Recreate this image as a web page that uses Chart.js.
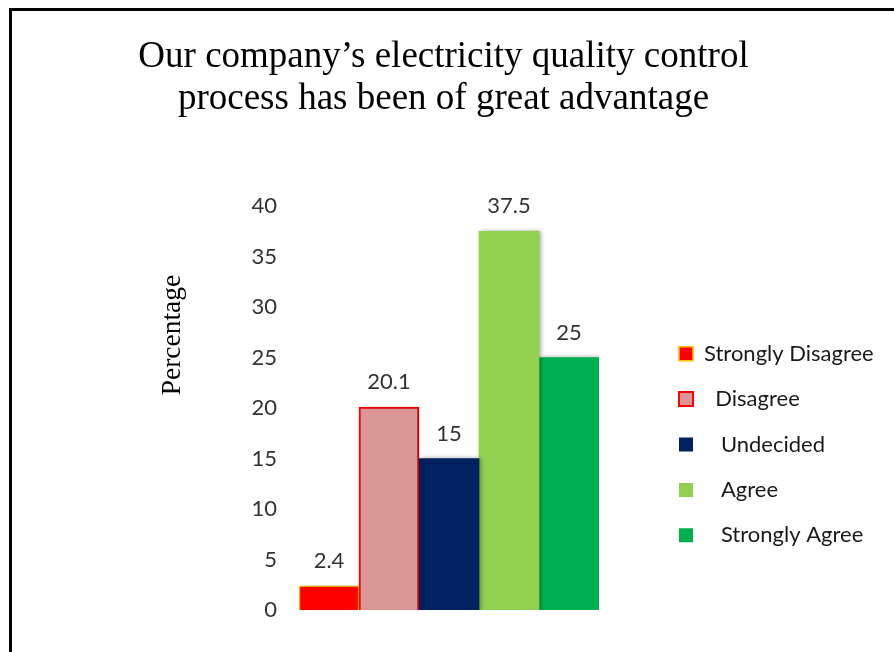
<!DOCTYPE html>
<html>
<head>
<meta charset="utf-8">
<script src="https://cdn.jsdelivr.net/npm/chart.js@4.4.1/dist/chart.umd.min.js"></script>
<style>
  html, body { margin: 0; padding: 0; background: #fff; overflow: hidden; }
  #frame { position: absolute; left: 9px; top: 8px; width: 900px; height: 700px;
           border-left: 3px solid #000; border-top: 3px solid #000; box-sizing: border-box; }
  #wrap { position: absolute; left: 0; top: 0; width: 894px; height: 652px; }
</style>
</head>
<body>
<div id="frame"></div>
<div id="wrap"><canvas id="c" width="894" height="652"></canvas></div>
<script>
// ---- data ----
const titleLines = ['Our company\u2019s electricity quality control', 'process has been of great advantage'];
const yAxisTitle = 'Percentage';
const categories = [''];
const seriesNames = ['Strongly Disagree', '  Disagree', '   Undecided', '   Agree', '   Strongly Agree'];
const seriesValues = [2.4, 20.1, 15, 37.5, 25];
const yMin = 0, yMax = 40, yStep = 5;

// ---- styles ----
const fillColors = ['#FF0000', '#DA9694', '#002060', '#92D050', '#00B050'];
const borderColors = ['#FFC000', '#FF0000', '#002060', '#92D050', '#00B050'];
const borderWidths = [1.5, 2, 0, 0, 0];

// ---- layout sizes ----
const yAxisWidth = 299;      // left axis band (title + ticks)
const rightGapWidth = 56.6;  // empty band between plot and legend
const legendWidth = 231.4;   // legend band

Chart.defaults.font.family = 'Lato, "Open Sans", sans-serif';

const datasets = seriesNames.map((name, i) => ({
  label: name,
  data: [seriesValues[i]],
  backgroundColor: fillColors[i],
  borderColor: borderColors[i],
  borderWidth: borderWidths[i],
  categoryPercentage: 1.0,
  barPercentage: 1.0
}));

const legendWidthPlugin = {
  id: 'legendWidth',
  beforeLayout(chart) {
    const lg = chart.legend;
    if (lg && !lg._fixedWidth) {
      const orig = lg.fit;
      lg.fit = function () { orig.call(this); this.width = legendWidth; };
      lg._fixedWidth = true;
    }
  }
};

const shadowPlugin = {
  id: 'barShadow',
  beforeDatasetsDraw(chart) {
    const ctx = chart.ctx;
    ctx.save();
    ctx.shadowColor = 'rgba(0,0,0,0.35)';
    ctx.shadowBlur = 4;
    ctx.shadowOffsetX = 2;
    ctx.shadowOffsetY = 0;
  },
  afterDatasetsDraw(chart) {
    chart.ctx.restore();
  }
};

const valueLabelPlugin = {
  id: 'valueLabels',
  afterDatasetsDraw(chart) {
    const ctx = chart.ctx;
    ctx.save();
    ctx.font = '22px Lato, "Open Sans", sans-serif';
    ctx.fillStyle = '#333333';
    ctx.textAlign = 'center';
    ctx.textBaseline = 'middle';
    chart.data.datasets.forEach((ds, i) => {
      const meta = chart.getDatasetMeta(i);
      meta.data.forEach((bar, j) => {
        ctx.fillText(String(ds.data[j]), bar.x, bar.y - 25);
      });
    });
    ctx.restore();
  }
};

new Chart(document.getElementById('c'), {
  type: 'bar',
  data: { labels: categories, datasets: datasets },
  options: {
    responsive: false,
    animation: false,
    devicePixelRatio: 1,
    layout: { padding: { left: 0, right: 7, top: 0, bottom: 42 } },
    plugins: {
      tooltip: { enabled: false },
      title: {
        display: true,
        text: titleLines,
        color: '#000',
        font: { family: '"Liberation Serif", "Times New Roman", serif', size: 37, weight: 'normal', lineHeight: '42.4px' },
        padding: { top: 35.6, bottom: 85.6 }
      },
      legend: {
        display: true,
        position: 'right',
        align: 'start',
        fullSize: false,
        title: { display: true, text: '', font: { size: 12 }, padding: { top: 98.9, bottom: 0 } },
        labels: {
          boxWidth: 14,
          boxHeight: 14,
          padding: 23.4,
          color: '#1a1a1a',
          font: { size: 22 }
        }
      }
    },
    scales: {
      x: {
        type: 'category',
        display: false,
        grid: { display: false }
      },
      y: {
        position: 'left',
        min: yMin,
        max: yMax,
        grid: { display: false, drawTicks: false },
        border: { display: false },
        ticks: { stepSize: yStep, padding: 22, color: '#333333', font: { size: 22 } },
        title: {
          display: true,
          text: yAxisTitle + '          ',
          align: 'end',
          color: '#000',
          font: { family: '"Liberation Serif", "Times New Roman", serif', size: 27.5 },
          padding: { top: 156.5, bottom: 0 }
        },
        afterFit(scale) { scale.width = yAxisWidth; }
      },
      y2: {
        position: 'right',
        display: true,
        grid: { display: false, drawTicks: false },
        border: { display: false },
        ticks: { display: false },
        afterFit(scale) { scale.width = rightGapWidth; }
      }
    }
  },
  plugins: [legendWidthPlugin, shadowPlugin, valueLabelPlugin]
});
</script>
</body>
</html>
